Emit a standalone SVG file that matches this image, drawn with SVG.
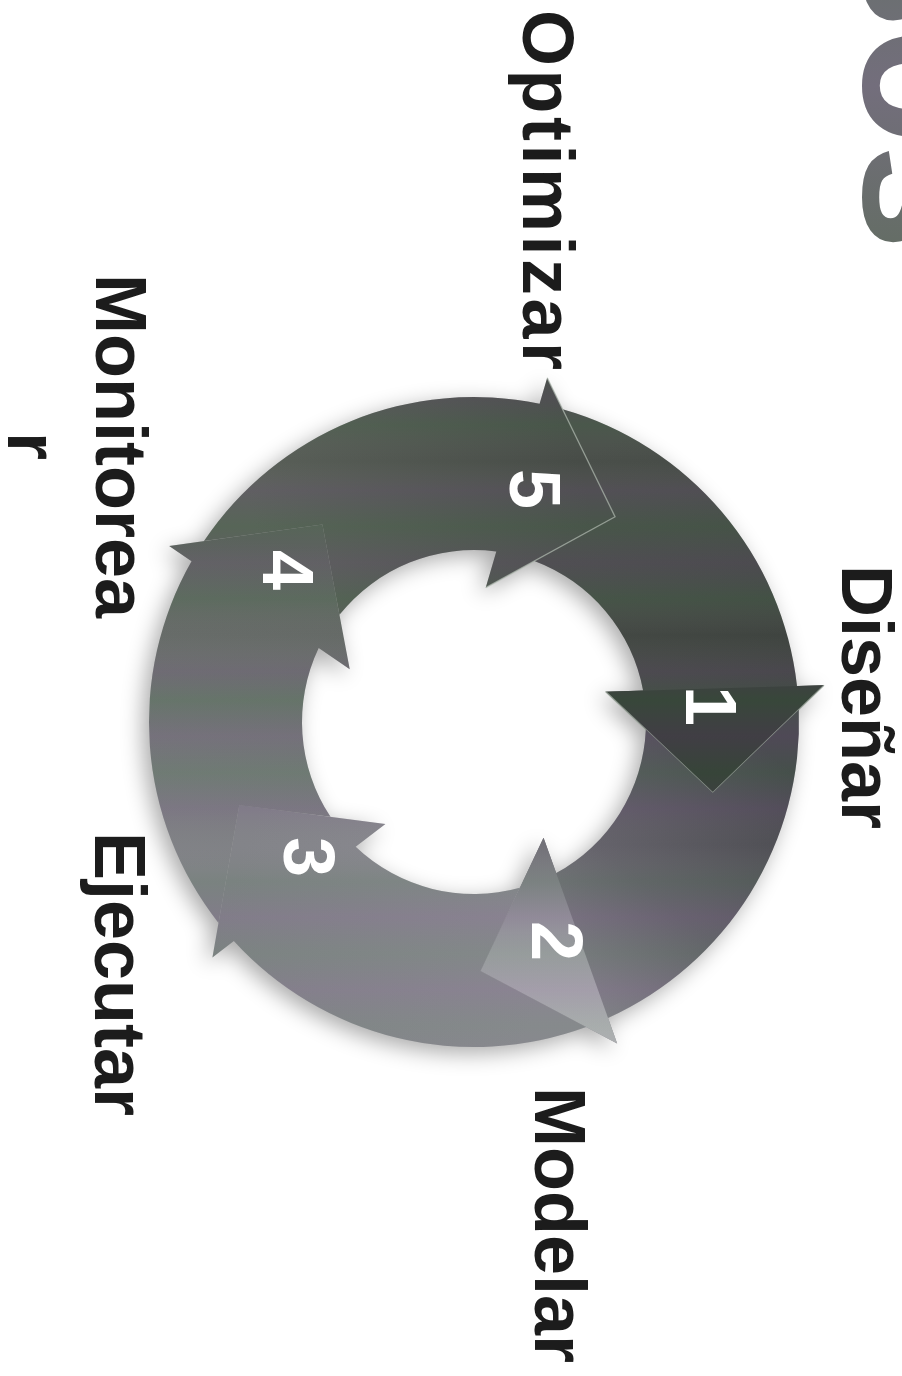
<svg xmlns="http://www.w3.org/2000/svg" xmlns:xlink="http://www.w3.org/1999/xlink" width="902" height="1376" viewBox="0 0 902 1376">
  <style>
    .lbl { font-family: "Liberation Sans", Arial, sans-serif; font-weight: bold; font-size: 72px; fill: #1c1c1c; }
    .num { font-family: "Liberation Sans", Arial, sans-serif; font-weight: bold; font-size: 72px; fill: #ffffff; text-anchor: middle; }
    .title { font-family: "Liberation Sans", Arial, sans-serif; font-weight: bold; font-size: 190px; }
    .edge { fill: none; stroke: #a9b3a9; stroke-width: 1.4; stroke-opacity: 0.7; stroke-linejoin: miter; }
  </style>
  <defs>
    <path id="arrowShape" d="M 88.61,-312.69 A 325 325 0 0 1 323.00,-35.99 L 350.07,-36.79 L 238.75,70.72 L 131.54,-30.37 L 169.10,-31.47 A 172 172 0 0 0 60.35,-161.07 L 141.04,-205.22 Z"/>
    <path id="headShape" d="M 350.07,-36.79 L 238.75,70.72 L 131.54,-30.37 Z"/>
    <path id="headEdge" d="M 350.07,-36.79 L 238.75,70.72 L 131.54,-30.37"/>

    <linearGradient id="g1" gradientUnits="userSpaceOnUse" x1="68" y1="-238" x2="244" y2="43">
      <stop offset="0" stop-color="#4a4f4a"/>
      <stop offset="1" stop-color="#3c413d"/>
    </linearGradient>
    <linearGradient id="g2" gradientUnits="userSpaceOnUse" x1="68" y1="-238" x2="244" y2="43">
      <stop offset="0" stop-color="#444549"/>
      <stop offset="0.55" stop-color="#65636b"/>
      <stop offset="1" stop-color="#8b8991"/>
    </linearGradient>
    <linearGradient id="g3" gradientUnits="userSpaceOnUse" x1="68" y1="-238" x2="244" y2="43">
      <stop offset="0" stop-color="#8e8c94"/>
      <stop offset="1" stop-color="#838489"/>
    </linearGradient>
    <linearGradient id="g4" gradientUnits="userSpaceOnUse" x1="68" y1="-238" x2="244" y2="43">
      <stop offset="0" stop-color="#838489"/>
      <stop offset="0.35" stop-color="#76797a"/>
      <stop offset="1" stop-color="#5a605a"/>
    </linearGradient>
    <linearGradient id="g5" gradientUnits="userSpaceOnUse" x1="68" y1="-238" x2="244" y2="43">
      <stop offset="0" stop-color="#5a6059"/>
      <stop offset="1" stop-color="#474c47"/>
    </linearGradient>
    <linearGradient id="hB" gradientUnits="userSpaceOnUse" x1="140" y1="-30" x2="320" y2="30">
      <stop offset="0" stop-color="#727178"/>
      <stop offset="0.45" stop-color="#9d9ca3"/>
      <stop offset="1" stop-color="#b7b6bb"/>
    </linearGradient>

    <linearGradient id="s0" gradientUnits="userSpaceOnUse" x1="0" y1="-362" x2="0" y2="362">
      <stop offset="0.00" stop-color="#4a7a50" stop-opacity="0.16"/>
      <stop offset="0.05" stop-color="#7a5a8a" stop-opacity="0.16"/>
      <stop offset="0.09" stop-color="#4a7a50" stop-opacity="0.2"/>
      <stop offset="0.14" stop-color="#808080" stop-opacity="0"/>
      <stop offset="0.18" stop-color="#7a5a8a" stop-opacity="0.2"/>
      <stop offset="0.23" stop-color="#4a7a50" stop-opacity="0.2"/>
      <stop offset="0.28" stop-color="#7a5a8a" stop-opacity="0.18"/>
      <stop offset="0.33" stop-color="#4a7a50" stop-opacity="0.22"/>
      <stop offset="0.38" stop-color="#808080" stop-opacity="0"/>
      <stop offset="0.43" stop-color="#7a5a8a" stop-opacity="0.2"/>
      <stop offset="0.47" stop-color="#4a7a50" stop-opacity="0.24"/>
      <stop offset="0.52" stop-color="#7a5a8a" stop-opacity="0.2"/>
      <stop offset="0.57" stop-color="#4a7a50" stop-opacity="0.2"/>
      <stop offset="0.62" stop-color="#7a5a8a" stop-opacity="0.2"/>
      <stop offset="0.67" stop-color="#808080" stop-opacity="0"/>
      <stop offset="0.72" stop-color="#4a7a50" stop-opacity="0.16"/>
      <stop offset="0.77" stop-color="#7a5a8a" stop-opacity="0.18"/>
      <stop offset="0.82" stop-color="#4a7a50" stop-opacity="0.14"/>
      <stop offset="0.87" stop-color="#7a5a8a" stop-opacity="0.16"/>
      <stop offset="0.92" stop-color="#4a7a50" stop-opacity="0.12"/>
      <stop offset="1.00" stop-color="#7a5a8a" stop-opacity="0.12"/>
    </linearGradient>
    <linearGradient id="s1" xlink:href="#s0" href="#s0" gradientTransform="rotate(-72)"/>
    <linearGradient id="s2" xlink:href="#s0" href="#s0" gradientTransform="rotate(-144)"/>
    <linearGradient id="s3" xlink:href="#s0" href="#s0" gradientTransform="rotate(-216)"/>
    <linearGradient id="s4" xlink:href="#s0" href="#s0" gradientTransform="rotate(-288)"/>

    <linearGradient id="titleFill" x1="0" y1="0" x2="1" y2="0">
      <stop offset="0" stop-color="#66706a"/>
      <stop offset="0.5" stop-color="#736e7c"/>
      <stop offset="1" stop-color="#646d65"/>
    </linearGradient>

    <filter id="shadow" x="-20%" y="-20%" width="140%" height="140%">
      <feGaussianBlur in="SourceAlpha" stdDeviation="11"/>
      <feOffset dx="-6" dy="6"/>
      <feComponentTransfer><feFuncA type="linear" slope="0.34"/></feComponentTransfer>
    </filter>
  </defs>

  <rect x="0" y="0" width="902" height="1376" fill="#ffffff"/>

  <!-- cropped title fragment -->
  <g id="title">
    <text class="title" transform="translate(864,250) rotate(90)" text-anchor="end" fill="url(#titleFill)">sos</text>
  </g>

  <!-- ring shadow -->
  <g id="ring-shadow" filter="url(#shadow)" fill="#000">
    <use href="#arrowShape" xlink:href="#arrowShape" transform="translate(474,722) rotate(0)"/>
    <use href="#arrowShape" xlink:href="#arrowShape" transform="translate(474,722) rotate(72)"/>
    <use href="#arrowShape" xlink:href="#arrowShape" transform="translate(474,722) rotate(144)"/>
    <use href="#arrowShape" xlink:href="#arrowShape" transform="translate(474,722) rotate(216)"/>
    <use href="#arrowShape" xlink:href="#arrowShape" transform="translate(474,722) rotate(288)"/>
  </g>

  <g id="connectors"></g>

  <g id="step1">
    <g transform="translate(474,722) rotate(0)">
      <use href="#arrowShape" xlink:href="#arrowShape" fill="url(#g1)"/>
      <use href="#headShape" xlink:href="#headShape" fill="#323733"/>
      <use href="#arrowShape" xlink:href="#arrowShape" fill="url(#s0)"/>
      <use href="#headEdge" xlink:href="#headEdge" class="edge"/>
    </g>
    <text class="num" transform="translate(686,706) rotate(90)">1</text>
    <text class="lbl" transform="translate(842,565) rotate(90)">Diseñar</text>
  </g>

  <g id="step2">
    <g transform="translate(474,722) rotate(72)">
      <use href="#arrowShape" xlink:href="#arrowShape" fill="url(#g2)"/>
      <use href="#headShape" xlink:href="#headShape" fill="url(#hB)"/>
      <use href="#arrowShape" xlink:href="#arrowShape" fill="url(#s1)"/>
    </g>
    <text class="num" transform="translate(532,941) rotate(90)">2</text>
    <text class="lbl" transform="translate(535,1087) rotate(90)">Modelar</text>
  </g>

  <g id="step3">
    <g transform="translate(474,722) rotate(144)">
      <use href="#arrowShape" xlink:href="#arrowShape" fill="url(#g3)"/>
      <use href="#arrowShape" xlink:href="#arrowShape" fill="url(#s2)"/>
    </g>
    <text class="num" transform="translate(284,857) rotate(90)">3</text>
    <text class="lbl" transform="translate(95,832) rotate(90)">Ejecutar</text>
  </g>

  <g id="step4">
    <g transform="translate(474,722) rotate(216)">
      <use href="#arrowShape" xlink:href="#arrowShape" fill="url(#g4)"/>
      <use href="#arrowShape" xlink:href="#arrowShape" fill="url(#s3)"/>
    </g>
    <text class="num" transform="translate(263,570) rotate(90)">4</text>
    <text class="lbl" transform="translate(96,446) rotate(90)" text-anchor="middle"><tspan x="0" y="0">Monitorea</tspan><tspan x="0" y="88">r</tspan></text>
  </g>

  <g id="step5">
    <g transform="translate(474,722) rotate(288)">
      <use href="#arrowShape" xlink:href="#arrowShape" fill="url(#g5)"/>
      <use href="#arrowShape" xlink:href="#arrowShape" fill="url(#s4)"/>
      <use href="#headEdge" xlink:href="#headEdge" class="edge"/>
    </g>
    <text class="num" transform="translate(510,489) rotate(90)">5</text>
    <text class="lbl" transform="translate(523,10) rotate(90)" textLength="360" lengthAdjust="spacing">Optimizar</text>
  </g>
</svg>
